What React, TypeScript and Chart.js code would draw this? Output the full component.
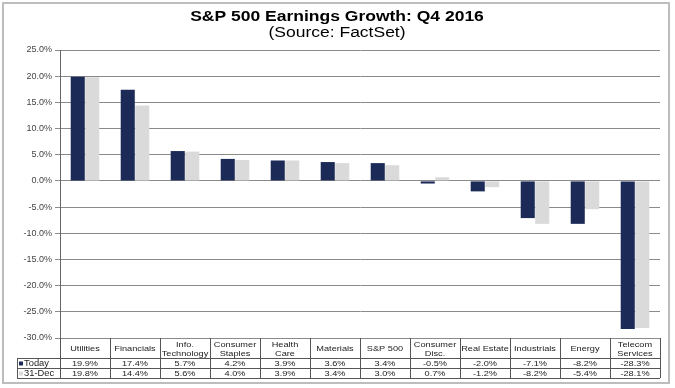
import React, { useEffect, useRef } from "react";
import { Chart, registerables } from "chart.js";
Chart.register(...registerables);

const categories: string[][] = [
  ["Utilities"],
  ["Financials"],
  ["Info.", "Technology"],
  ["Consumer", "Staples"],
  ["Health", "Care"],
  ["Materials"],
  ["S&P 500"],
  ["Consumer", "Disc."],
  ["Real Estate"],
  ["Industrials"],
  ["Energy"],
  ["Telecom", "Services"],
];
const todayValues = [19.9, 17.4, 5.7, 4.2, 3.9, 3.6, 3.4, -0.5, -2.0, -7.1, -8.2, -28.3];
const decValues = [19.8, 14.4, 5.6, 4.0, 3.9, 3.4, 3.0, 0.7, -1.2, -8.2, -5.4, -28.1];
const seriesNames = ["Today", "31-Dec"];
const titleText = "S&P 500 Earnings Growth: Q4 2016";
const subtitleText = "(Source: FactSet)";
const yMin = -30;
const yMax = 25;
const yStep = 5;

const DARK = "#1b2a56";
const LIGHT = "#dadada";
const FONT = "'Liberation Sans', Arial, sans-serif";

function stretchText(ctx: CanvasRenderingContext2D, text: string, x: number, y: number, sx: number) {
  ctx.save();
  ctx.translate(x, y);
  ctx.scale(sx, 1);
  ctx.fillText(text, 0, 0);
  ctx.restore();
}

export default function App() {
  const ref = useRef<HTMLCanvasElement>(null);
  useEffect(() => {
    document.body.style.margin = "0";
    const fmt = (v: number) => v.toFixed(1) + "%";
    const tablePlugin = {
      id: "tablePlugin",
      afterDraw(chart: any) {
        const ctx = chart.ctx as CanvasRenderingContext2D;
        const area = chart.chartArea;
        const xs = chart.scales.x;
        const n = categories.length;
        const w = (area.right - area.left) / n;
        const rowTop = Math.round(area.bottom);
        const r1 = rowTop + 20;
        const r2 = r1 + 10;
        const r3 = r2 + 10;
        const legLeft = 17;
        ctx.save();
        // outer frame
        ctx.strokeStyle = "#bdbdbd";
        ctx.lineWidth = 2;
        ctx.strokeRect(3, 3, 666, 380);
        // title
        ctx.fillStyle = "#000";
        ctx.textAlign = "center";
        ctx.textBaseline = "middle";
        ctx.font = `bold 14px ${FONT}`;
        stretchText(ctx, titleText, 337, 17, 1.25);
        ctx.font = `14px ${FONT}`;
        stretchText(ctx, subtitleText, 337, 33, 1.25);
        // table lines
        ctx.strokeStyle = "#555";
        ctx.lineWidth = 1;
        ctx.beginPath();
        for (let i = 0; i <= n; i++) {
          const x = Math.round(area.left + i * w) + 0.5;
          ctx.moveTo(x, rowTop);
          ctx.lineTo(x, r3);
        }
        ctx.moveTo(legLeft + 0.5, r1);
        ctx.lineTo(legLeft + 0.5, r3);
        for (const y of [r1, r2, r3]) {
          const yy = Math.round(y) + 0.5;
          ctx.moveTo(legLeft, yy);
          ctx.lineTo(area.right, yy);
        }
        ctx.stroke();
        // text
        ctx.fillStyle = "#222";
        ctx.font = `8px ${FONT}`;
        ctx.textAlign = "center";
        ctx.textBaseline = "middle";
        const sx = 1.15;
        categories.forEach((lines, i) => {
          const cx = xs.getPixelForValue(i);
          const mid = (rowTop + r1) / 2 + 1;
          if (lines.length === 1) {
            stretchText(ctx, lines[0], cx, mid, sx);
          } else {
            stretchText(ctx, lines[0], cx, mid - 4.5, sx);
            stretchText(ctx, lines[1], cx, mid + 4.5, sx);
          }
          stretchText(ctx, fmt(todayValues[i]), cx, (r1 + r2) / 2 + 1, sx);
          stretchText(ctx, fmt(decValues[i]), cx, (r2 + r3) / 2 + 1, sx);
        });
        // legend keys
        ctx.textAlign = "left";
        ctx.font = `8.5px ${FONT}`;
        const keys = [DARK, LIGHT];
        [r1, r2].forEach((y, k) => {
          const cy = y + 5;
          ctx.fillStyle = keys[k];
          ctx.fillRect(legLeft + 2, cy - 1.5, 4, 4);
          ctx.fillStyle = "#222";
          stretchText(ctx, seriesNames[k], legLeft + 7, cy + 0.5, 1.1);
        });
        ctx.restore();
      },
    };
    const chart = new Chart(ref.current!, {
      type: "bar",
      data: {
        labels: categories.map((c) => c.join(" ")),
        datasets: [
          { label: seriesNames[0], data: todayValues, backgroundColor: DARK, categoryPercentage: 0.58, barPercentage: 0.97 },
          { label: seriesNames[1], data: decValues, backgroundColor: LIGHT, categoryPercentage: 0.58, barPercentage: 0.97 },
        ],
      },
      options: {
        responsive: false,
        animation: false,
        layout: { padding: { left: 0, right: 15, top: 50, bottom: 50 } },
        plugins: { legend: { display: false }, tooltip: { enabled: false }, title: { display: false } },
        scales: {
          x: { display: false },
          y: {
            min: yMin,
            max: yMax,
            ticks: {
              stepSize: yStep,
              callback: (v: any) => fmt(Number(v)),
              font: { size: 9, family: FONT },
              color: "#444",
              padding: 3,
            },
            grid: { color: "#8a8a8a", tickLength: 5, lineWidth: 1 },
            border: { display: true, color: "#666" },
            afterFit: (s: any) => {
              s.width = 60;
            },
          },
        },
      },
      plugins: [tablePlugin],
    });
    return () => chart.destroy();
  }, []);
  return (
    <div style={{ width: 675, height: 388 }}>
      <canvas ref={ref} width={675} height={388} style={{ display: "block" }} />
    </div>
  );
}
